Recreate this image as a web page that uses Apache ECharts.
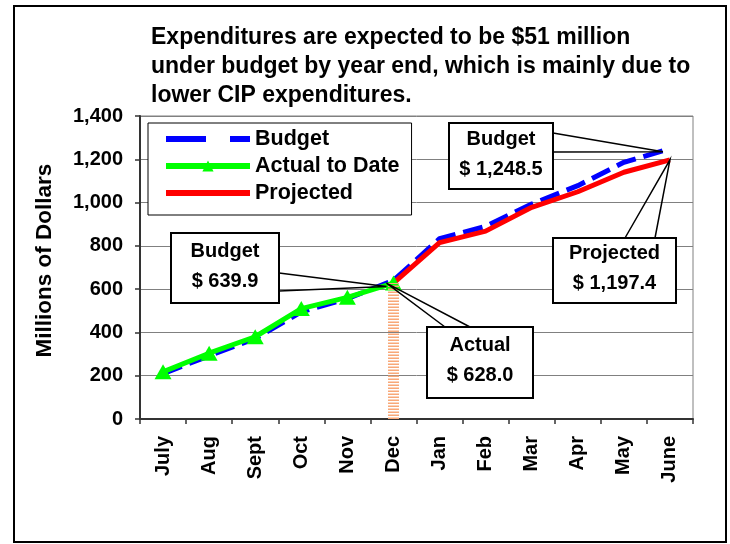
<!DOCTYPE html>
<html>
<head>
<meta charset="utf-8">
<style>
  html, body { margin: 0; padding: 0; background: #fff; }
  #chart { width: 730px; height: 544px; }
</style>
<script src="https://cdn.jsdelivr.net/npm/echarts@6/dist/echarts.min.js"></script>
</head>
<body>
<div id="chart"></div>
<script>
// months of the fiscal year
const months = ["July", "Aug", "Sept", "Oct", "Nov", "Dec", "Jan", "Feb", "Mar", "Apr", "May", "June"];

// cumulative expenditures, millions of dollars
const budget = [210, 292, 372, 495, 556, 639.9, 833, 890, 993, 1078, 1186, 1248.5];
const actual = [218, 304, 380, 510, 562, 628.0, null, null, null, null, null, null];
const projected = [null, null, null, null, null, 628.0, 815, 868, 978, 1050, 1140, 1197.4];

const yTicks = [0, 200, 400, 600, 800, 1000, 1200, 1400];

// callouts: label lines, the point they point at
const callouts = [
  { lines: ["Budget", "$ 639.9"], month: "Dec", value: 639.9, dx: -7, dy: 6 },
  { lines: ["Actual", "$ 628.0"], month: "Dec", value: 628.0, dx: -7, dy: 0 },
  { lines: ["Budget", "$ 1,248.5"], month: "June", value: 1248.5, dx: -7, dy: 3 },
  { lines: ["Projected", "$ 1,197.4"], month: "June", value: 1197.4, dx: 0, dy: 0 }
];

const FONT = "'Liberation Sans', Arial, sans-serif";

const chart = echarts.init(document.getElementById("chart"));

chart.setOption({
  animation: false,
  backgroundColor: "#fff",
  textStyle: { fontFamily: FONT, color: "#000" },
  title: {
    text: "Expenditures are expected to be $51 million\nunder budget by year end, which is mainly due to\nlower CIP expenditures.",
    left: 151,
    top: 23,
    padding: 0,
    textStyle: { fontSize: 23, fontWeight: "bold", lineHeight: 29, color: "#000", fontFamily: FONT }
  },
  legend: {
    orient: "vertical",
    left: 148,
    top: 123,
    padding: [5, 12, 11, 15],
    itemWidth: 84,
    itemHeight: 14,
    itemGap: 5,
    backgroundColor: "#fff",
    borderColor: "#000",
    borderWidth: 1,
    data: [
      { name: "Budget", itemStyle: { opacity: 0 }, lineStyle: { width: 6, type: [40, 24] } },
      { name: "Actual to Date", lineStyle: { width: 6 } },
      { name: "Projected", itemStyle: { opacity: 0 }, lineStyle: { width: 6 } }
    ],
    textStyle: { fontSize: 21.5, fontWeight: "bold", color: "#000", fontFamily: FONT }
  },
  grid: {
    left: 140,
    top: 116,
    right: 37,
    bottom: 125,
    show: true,
    borderColor: "#808080",
    borderWidth: 1
  },
  xAxis: {
    type: "category",
    data: months,
    boundaryGap: true,
    axisLine: { lineStyle: { color: "#333", width: 2 } },
    axisTick: { show: true, inside: false, length: 5, lineStyle: { color: "#333", width: 1.5 } },
    axisLabel: { rotate: 90, margin: 17, fontSize: 20, fontWeight: "bold", color: "#000", fontFamily: FONT },
    splitLine: { show: false }
  },
  yAxis: {
    type: "value",
    min: yTicks[0],
    max: yTicks[yTicks.length - 1],
    interval: 200,
    name: "Millions of Dollars",
    nameLocation: "middle",
    nameRotate: 90,
    nameGap: 84,
    nameTextStyle: { fontSize: 22.5, fontWeight: "bold", color: "#000", fontFamily: FONT, padding: [0, 0, 0, 14] },
    axisLine: { show: true, lineStyle: { color: "#333", width: 2 } },
    axisTick: { show: true, inside: false, length: 5, lineStyle: { color: "#333", width: 1.5 } },
    axisLabel: {
      margin: 17,
      fontSize: 20,
      fontWeight: "bold",
      color: "#000",
      fontFamily: FONT,
      formatter: (v) => v.toLocaleString("en-US")
    },
    splitLine: { show: true, lineStyle: { color: "#808080", width: 1 } }
  },
  series: [
    {
      name: "Budget",
      type: "line",
      data: budget,
      z: 2,
      symbol: "none",
      lineStyle: { color: "#0000ff", width: 5, type: [20, 8] },
      itemStyle: { color: "#0000ff" },
      markLine: {
        silent: true,
        symbol: ["none", "none"],
        label: { show: false },
        lineStyle: { color: "#f8a878", width: 11, type: [1.5, 1.5], cap: "butt" },
        data: [[{ coord: ["Dec", 0] }, { coord: ["Dec", actual[5]] }]]
      }
    },
    {
      name: "Projected",
      type: "line",
      data: projected,
      z: 3,
      symbol: "none",
      lineStyle: { color: "#ff0000", width: 5 },
      itemStyle: { color: "#ff0000" }
    },
    {
      name: "Actual to Date",
      type: "line",
      data: actual,
      z: 4,
      symbol: "triangle",
      symbolSize: [17, 15],
      showAllSymbol: true,
      lineStyle: { color: "#00ff00", width: 5 },
      itemStyle: { color: "#00ff00" }
    }
  ]
});

// boxes for the callouts (layout only)
const boxes = [
  { x: 171, y: 233, w: 108, h: 70, a: [279, 273], b: [279, 291] },
  { x: 427, y: 327, w: 106, h: 71, a: [445, 327], b: [470, 327] },
  { x: 449, y: 123, w: 104, h: 66, a: [553, 133], b: [553, 152] },
  { x: 553, y: 238, w: 123, h: 65, a: [625, 238], b: [655, 238] }
];

const graphics = [
  {
    type: "rect",
    shape: { x: 14, y: 6, width: 712, height: 536 },
    style: { fill: "none", stroke: "#000", lineWidth: 2 },
    silent: true,
    z: 100
  }
];

callouts.forEach((c, i) => {
  const p = chart.convertToPixel({ gridIndex: 0 }, [c.month, c.value]);
  const tx = p[0] + c.dx;
  const ty = p[1] + c.dy;
  const b = boxes[i];
  graphics.push({
    type: "polyline",
    shape: { points: [b.a, [tx, ty], b.b] },
    style: { stroke: "#000", lineWidth: 1.5, fill: "none" },
    silent: true,
    z: 100
  });
  graphics.push({
    type: "rect",
    shape: { x: b.x, y: b.y, width: b.w, height: b.h },
    style: { fill: "#fff", stroke: "#000", lineWidth: 2 },
    silent: true,
    z: 101
  });
  graphics.push({
    type: "text",
    x: b.x + b.w / 2,
    y: b.y + b.h / 2 - 2,
    style: {
      text: c.lines.join("\n"),
      fontFamily: FONT,
      fontSize: 20,
      fontWeight: "bold",
      lineHeight: 30,
      fill: "#000",
      align: "center",
      verticalAlign: "middle"
    },
    silent: true,
    z: 102
  });
});

chart.setOption({ graphic: graphics });
</script>
</body>
</html>
